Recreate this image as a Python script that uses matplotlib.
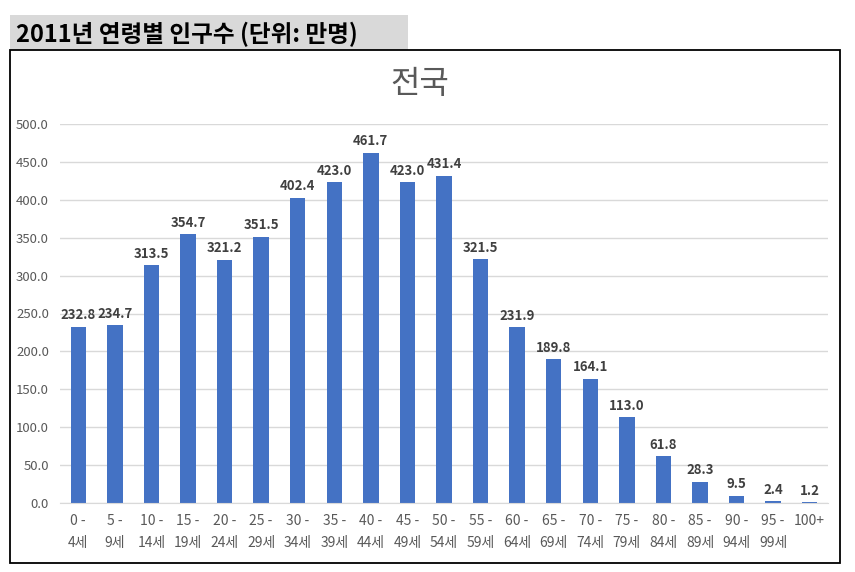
import matplotlib
matplotlib.use('Agg')
import matplotlib.pyplot as plt
from matplotlib.patches import Rectangle

plt.rcParams['font.family'] = ['Noto Sans CJK KR', 'DejaVu Sans']

# data (unit: 10k people)
age_groups = ['0 -\n4세', '5 -\n9세', '10 -\n14세', '15 -\n19세', '20 -\n24세',
              '25 -\n29세', '30 -\n34세', '35 -\n39세', '40 -\n44세', '45 -\n49세',
              '50 -\n54세', '55 -\n59세', '60 -\n64세', '65 -\n69세', '70 -\n74세',
              '75 -\n79세', '80 -\n84세', '85 -\n89세', '90 -\n94세', '95 -\n99세',
              '100+']
population = [232.8, 234.7, 313.5, 354.7, 321.2, 351.5, 402.4, 423.0, 461.7, 423.0,
              431.4, 321.5, 231.9, 189.8, 164.1, 113.0, 61.8, 28.3, 9.5, 2.4, 1.2]
y_ticks = [0, 50, 100, 150, 200, 250, 300, 350, 400, 450, 500]

W, H = 855, 572
fig = plt.figure(figsize=(W / 100, H / 100), dpi=100)

# header box and chart frame (in figure pixels)
def px(x0, y0, x1, y1):
    return (x0 / W, 1 - y1 / H), (x1 - x0) / W, (y1 - y0) / H

xy, w, h = px(10, 15, 408, 50)
fig.patches.append(Rectangle(xy, w, h, transform=fig.transFigure,
                             facecolor='#d9d9d9', edgecolor='none'))
fig.text(16 / W, 1 - 34 / H, '2011년 연령별 인구수 (단위: 만명)', fontsize=17,
         fontweight='bold', color='black', va='center', ha='left')

xy, w, h = px(10, 50, 840, 563)
fig.patches.append(Rectangle(xy, w, h, transform=fig.transFigure,
                             facecolor='none', edgecolor='black', linewidth=1.3))

fig.text(420 / W, 1 - 84 / H, '전국', fontsize=23, color='#595959',
         ha='center', va='center')

ax = fig.add_axes([60 / W, 1 - 503 / H, 768 / W, 379 / H])
x = list(range(len(age_groups)))
bars = ax.bar(x, population, width=0.42, color='#4472C4', zorder=2)
for xi, v in zip(x, population):
    ax.text(xi, v + 6, f'{v:.1f}', ha='center', va='bottom', fontsize=9.5,
            fontweight='bold', color='#404040')

ax.set_xlim(-0.5, len(age_groups) - 0.5)
ax.set_ylim(0, 500)
ax.set_yticks(y_ticks)
ax.set_yticklabels([f'{t:.1f}' for t in y_ticks])
ax.set_xticks(x)
ax.set_xticklabels(age_groups, linespacing=1.75, va='top')
ax.tick_params(axis='y', length=0, labelsize=9.5, labelcolor='#595959', pad=8)
ax.tick_params(axis='x', length=0, labelsize=10, labelcolor='#595959', pad=8)
ax.grid(axis='y', color='#d9d9d9', linewidth=1, zorder=0)
for s in ['top', 'right', 'left']:
    ax.spines[s].set_visible(False)
ax.spines['bottom'].set_color('#d9d9d9')

fig.savefig('out.png', dpi=100)
